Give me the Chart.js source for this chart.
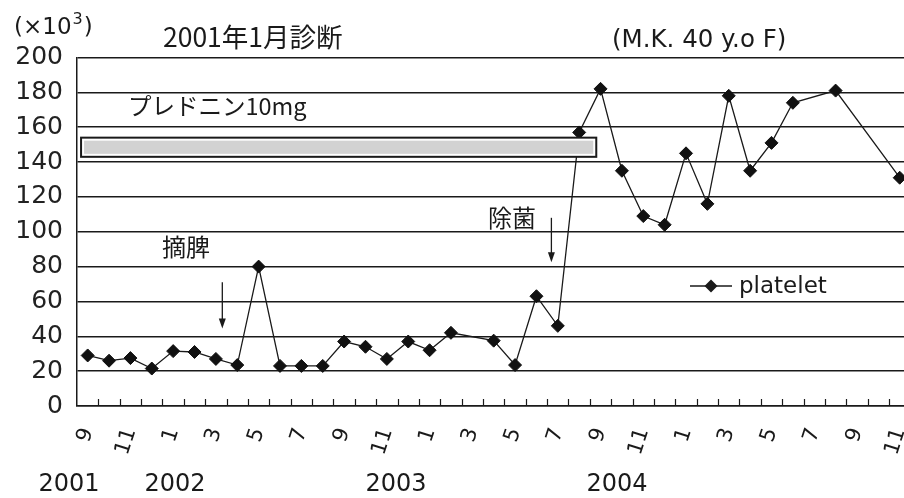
<!DOCTYPE html>
<html>
<head>
<meta charset="utf-8">
<script src="https://cdn.jsdelivr.net/npm/chart.js@4/dist/chart.umd.min.js"></script>
<style>
html, body { margin: 0; padding: 0; background: #fff; overflow: hidden; }
#wrap { width: 930px; height: 498px; }
</style>
</head>
<body>
<div id="wrap"><canvas id="plateletChart" width="930" height="498"></canvas></div>
<script>
// 2001-09 .. 2004-11, one point per month
var months = ['9', '10', '11', '12',
	'1', '2', '3', '4', '5', '6', '7', '8', '9', '10', '11', '12',
	'1', '2', '3', '4', '5', '6', '7', '8', '9', '10', '11', '12',
	'1', '2', '3', '4', '5', '6', '7', '8', '9', '10', '11'];
// platelet (x10^3)
var platelet = [29, 26, 27.5, 21.5,
	31.5, 31, 27, 23.5, 80, 23, 23, 23, 37, 34, 27, 37,
	32, 42, null, 37.5, 23.5, 63, 46, 157, 182, 135, 109, 104,
	145, 116, 178, 135, 151, 174, null, 181, null, null, 131];
var yTicks = [0, 20, 40, 60, 80, 100, 120, 140, 160, 180, 200];
var years = ['2001', '2002', '2003', '2004'];

var LATIN = "'DejaVu Sans', 'Noto Sans CJK JP', sans-serif";
var CJK = "'Noto Sans CJK JP', 'DejaVu Sans', sans-serif";
var INK = '#1a1a1a';

function arrow(ctx, x, y1, y2) {
	ctx.beginPath();
	ctx.moveTo(x, y1);
	ctx.lineTo(x, y2 - 8);
	ctx.stroke();
	ctx.beginPath();
	ctx.moveTo(x - 3.5, y2 - 10);
	ctx.lineTo(x + 3.5, y2 - 10);
	ctx.lineTo(x, y2);
	ctx.closePath();
	ctx.fill();
}

var notes = {
	id: 'notes',
	afterDatasetsDraw: function (chart) {
		var ctx = chart.ctx, xs = chart.scales.x, ys = chart.scales.y;
		var area = chart.chartArea;
		ctx.save();
		ctx.strokeStyle = INK;
		ctx.fillStyle = INK;

		// month tick marks pointing up from the axis
		ctx.lineWidth = 1.2;
		for (var i = 1; i <= months.length; i++) {
			var tx = Math.round(xs.getPixelForValue(i - 0.5)) + 0.5;
			ctx.beginPath();
			ctx.moveTo(tx, area.bottom);
			ctx.lineTo(tx, area.bottom - 7);
			ctx.stroke();
		}

		// prednisolone bar
		var rx1 = xs.getPixelForValue(-0.31), rx2 = xs.getPixelForValue(23.8);
		var ry1 = ys.getPixelForValue(154), ry2 = ys.getPixelForValue(143);
		ctx.fillStyle = '#fff';
		ctx.fillRect(rx1, ry1, rx2 - rx1, ry2 - ry1);
		ctx.fillStyle = '#d2d2d2';
		ctx.fillRect(rx1 + 3, ry1 + 3, rx2 - rx1 - 6, ry2 - ry1 - 6);
		ctx.lineWidth = 2;
		ctx.strokeRect(rx1, ry1, rx2 - rx1, ry2 - ry1);

		// arrows
		ctx.fillStyle = INK;
		ctx.lineWidth = 1.3;
		arrow(ctx, xs.getPixelForValue(6.3), ys.getPixelForValue(71), ys.getPixelForValue(44.5));
		arrow(ctx, xs.getPixelForValue(21.7), ys.getPixelForValue(108), ys.getPixelForValue(82.5));

		// legend
		var ds = chart.data.datasets[0];
		ctx.lineWidth = 1.5;
		ctx.beginPath();
		ctx.moveTo(690, 286);
		ctx.lineTo(732, 286);
		ctx.stroke();
		ctx.beginPath();
		ctx.moveTo(711, 279.5);
		ctx.lineTo(717.5, 286);
		ctx.lineTo(711, 292.5);
		ctx.lineTo(704.5, 286);
		ctx.closePath();
		ctx.fill();
		ctx.textBaseline = 'middle';
		ctx.textAlign = 'left';
		ctx.font = '23px ' + LATIN;
		ctx.fillText(ds.label, 739, 287);
		ctx.restore();
	},
	afterDraw: function (chart) {
		var ctx = chart.ctx;
		ctx.save();
		ctx.fillStyle = INK;
		ctx.textBaseline = 'middle';
		ctx.textAlign = 'left';
		// (x10^3) with a raised exponent
		ctx.font = '23px ' + LATIN;
		var unit = '(\u00d710';
		ctx.fillText(unit, 14, 28);
		var ux = 14 + ctx.measureText(unit).width;
		ctx.font = '16px ' + LATIN;
		ctx.fillText('3', ux + 1, 20);
		ux += ctx.measureText('3').width + 2;
		ctx.font = '23px ' + LATIN;
		ctx.fillText(')', ux, 28);

		ctx.font = '26.5px ' + CJK;
		ctx.fillText('2001年1月診断', 163, 37);
		ctx.font = '23.5px ' + CJK;
		ctx.fillText('プレドニン10mg', 128, 106);
		ctx.font = '24px ' + CJK;
		ctx.fillText('摘脾', 162, 247);
		ctx.fillText('除菌', 488, 218);
		ctx.font = '24.5px ' + LATIN;
		ctx.fillText('(M.K. 40 y.o F)', 612, 41);
		// year row under the month labels
		ctx.textAlign = 'center';
		ctx.font = '24px ' + LATIN;
		var yx = [69, 175, 396, 617];
		for (var i = 0; i < years.length; i++) {
			ctx.fillText(years[i], yx[i], 485);
		}
		ctx.restore();
	}
};

var ctx = document.getElementById('plateletChart').getContext('2d');
var plateletChart = new Chart(ctx, {
	type: 'line',
	data: {
		labels: months,
		datasets: [{
			label: 'platelet',
			data: platelet,
			borderColor: INK,
			borderWidth: 1.3,
			backgroundColor: INK,
			pointStyle: 'rectRot',
			pointRadius: 6.5,
			pointBackgroundColor: '#111',
			pointBorderColor: '#111',
			pointBorderWidth: 1,
			spanGaps: true,
			tension: 0
		}]
	},
	options: {
		responsive: false,
		animation: false,
		devicePixelRatio: 1,
		layout: { padding: { top: 57.5, right: 19.6, left: 0, bottom: 0 } },
		plugins: {
			legend: { display: false },
			tooltip: { enabled: false },
			title: { display: false }
		},
		scales: {
			x: {
				type: 'category',
				offset: true,
				grid: { display: false, drawTicks: false },
				border: { display: true, color: INK, width: 1.5 },
				ticks: {
					autoSkip: false,
					minRotation: 72,
					maxRotation: 72,
					padding: 19,
					color: INK,
					font: { size: 21, family: LATIN },
					callback: function (v, i) { return i % 2 === 0 ? months[i] : ''; }
				},
				afterFit: function (s) { s.height = 92; s.paddingLeft = 0; s.paddingRight = 0; }
			},
			y: {
				min: 0,
				max: 200,
				afterBuildTicks: function (s) { s.ticks = yTicks.map(function (v) { return { value: v }; }); },
				grid: { color: INK, lineWidth: 1.5, drawTicks: false },
				border: { display: true, color: INK, width: 1.5 },
				ticks: {
					padding: 14,
					color: '#222',
					font: { size: 25, family: LATIN }
				},
				afterFit: function (s) { s.width = 77; s.paddingTop = 0; s.paddingBottom = 0; }
			}
		}
	},
	plugins: [notes]
});
</script>
</body>
</html>
